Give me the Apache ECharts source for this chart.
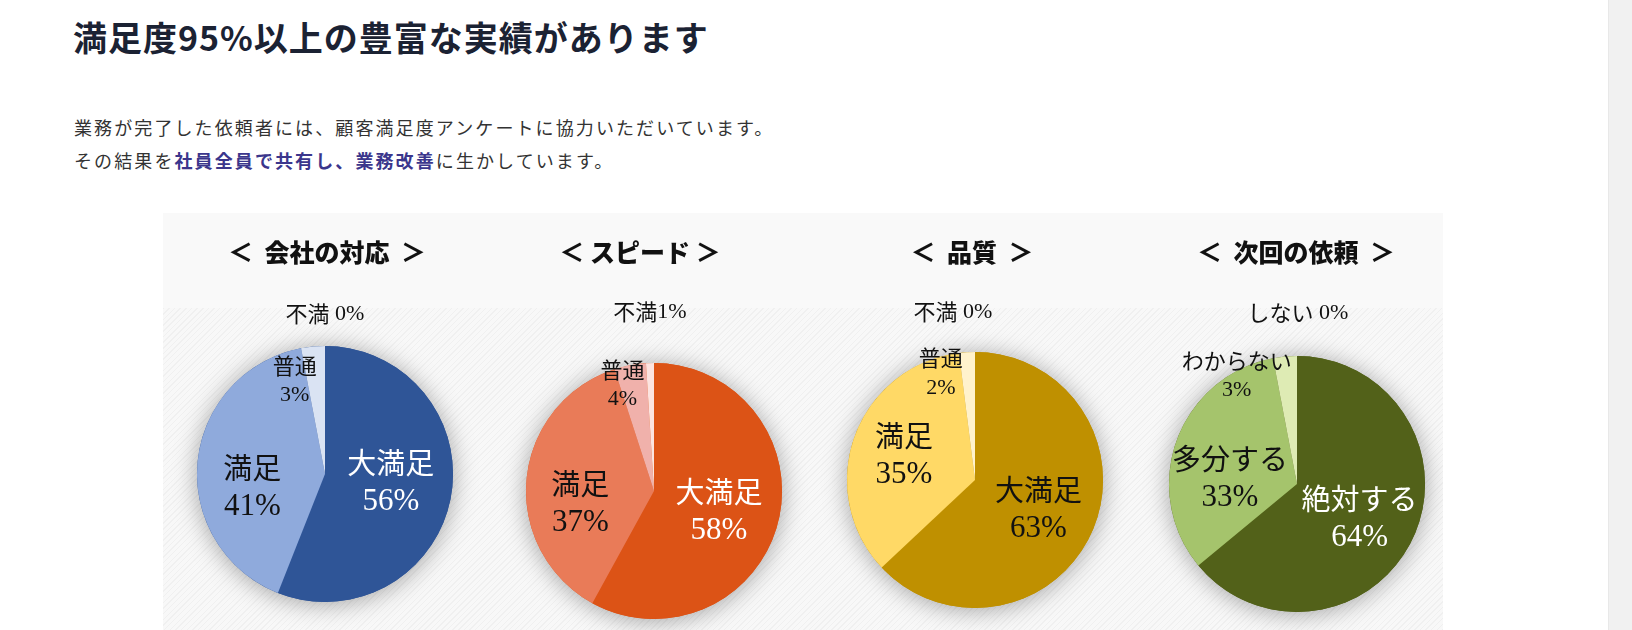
<!DOCTYPE html>
<html lang="ja">
<head>
<meta charset="utf-8">
<title>満足度95%以上の豊富な実績があります</title>
<script src="https://cdn.jsdelivr.net/npm/echarts@6/dist/echarts.min.js"></script>
<style>
body {
  margin: 0;
  width: 1632px;
  height: 630px;
  background: #fff;
  overflow: hidden;
  position: relative;
  font-family: "Noto Sans CJK JP", sans-serif;
}
.heading {
  position: absolute;
  left: 73px;
  top: 14px;
  margin: 0;
  font-size: 34px;
  font-weight: bold;
  letter-spacing: 1px;
  line-height: 46px;
  color: #1b2233;
}
.lead {
  position: absolute;
  left: 74px;
  top: 111px;
  margin: 0;
  font-size: 18px;
  letter-spacing: 2.1px;
  line-height: 33px;
  color: #333;
}
.lead b { color: #3b368c; }
.panel {
  position: absolute;
  left: 163px;
  top: 213px;
  width: 1280px;
  height: 417px;
  background: #f9f9f9;
}
.hatch {
  position: absolute;
  left: 0; right: 0; top: 95px; bottom: 0;
  background: repeating-linear-gradient(135deg, #f0f0f0 0 1px, #f8f8f8 1px 4px);
}
#chart {
  position: absolute;
  left: 0; top: 0;
  width: 1280px;
  height: 417px;
}
.scroll {
  position: absolute;
  left: 1608px; top: 0;
  width: 24px; height: 630px;
  background: #f1f1f1;
  border-left: 1px solid #e8e8e8;
}
</style>
</head>
<body>
<h1 class="heading">満足度95%以上の豊富な実績があります</h1>
<p class="lead">業務が完了した依頼者には、顧客満足度アンケートに協力いただいています。<br>その結果を<b>社員全員で共有し、業務改善</b>に生かしています。</p>
<div class="panel">
  <div class="hatch"></div>
  <div id="chart"></div>
</div>
<div class="scroll"></div>

<script>
// chart titles
const titles = ['＜  会社の対応  ＞', '＜ スピード ＞', '＜  品質  ＞', '＜  次回の依頼  ＞']

// answers (%)
const satisfactionNames = ['大満足', '満足', '普通', '不満']
const companyValues = [56, 41, 3, 0]
const speedValues = [58, 37, 4, 1]
const qualityValues = [63, 35, 2, 0]
const nextNames = ['絶対する', '多分する', 'わからない', 'しない']
const nextValues = [64, 33, 3, 0]

const groups = [
  {
    names: satisfactionNames, values: companyValues, sep: ' ',
    center: [162, 261], titleX: 164,
    colors: ['#2f5597', '#8faadc', '#dae3f3', '#c9d6ee'],
    light: [true, false],
    offsets: [[0, -4], [-6, 20], [-24, -27], [0, -93]]
  },
  {
    names: satisfactionNames, values: speedValues, sep: '',
    center: [491, 278], titleX: 477,
    colors: ['#dc5316', '#e97b58', '#f0b1ab', '#fce4e0'],
    light: [true, false],
    offsets: [[0, 4], [-7, 19], [-19, -41], [-2, -112]]
  },
  {
    names: satisfactionNames, values: qualityValues, sep: ' ',
    center: [812, 267], titleX: 809,
    colors: ['#bf9000', '#ffd966', '#fff2cc', '#fff8e5'],
    light: [false, false],
    offsets: [[2, 3], [-8, -2], [-30, -40], [-22, -101]]
  },
  {
    names: nextNames, values: nextValues, sep: ' ',
    center: [1134, 271], titleX: 1133,
    colors: ['#526119', '#a5c46c', '#deebb4', '#eef5d8'],
    light: [true, false],
    offsets: [[2, 6], [-4, 17], [-54, -42], [1, -104]]
  }
]

const rich = {
  bw: { fontFamily: 'Noto Sans CJK JP', fontSize: 29, color: '#fff', lineHeight: 39 },
  bb: { fontFamily: 'Noto Sans CJK JP', fontSize: 29, color: '#111', lineHeight: 39 },
  pw: { fontFamily: 'Liberation Serif', fontSize: 31, color: '#fff', lineHeight: 39 },
  pb: { fontFamily: 'Liberation Serif', fontSize: 31, color: '#111', lineHeight: 39 },
  sn: { fontFamily: 'Noto Sans CJK JP', fontSize: 22, color: '#111', lineHeight: 30 },
  sp: { fontFamily: 'Liberation Serif', fontSize: 22, color: '#111', lineHeight: 30 }
}

function makeSeries(g) {
  const total = g.values.reduce((a, b) => a + b, 0)
  return [
    {
      // soft drop shadow behind the pie
      type: 'pie', silent: true, animation: false, z: 1,
      radius: 128, center: g.center,
      label: { show: false }, labelLine: { show: false },
      itemStyle: { color: g.colors[0], shadowBlur: 24, shadowColor: 'rgba(0,0,0,0.35)', shadowOffsetY: 2 },
      data: [{ value: total, name: 'shadow' }]
    },
    {
      type: 'pie', animation: false, z: 2,
      radius: 128, center: g.center,
      startAngle: 90, clockwise: true,
      avoidLabelOverlap: false,
      emphasis: { disabled: true },
      itemStyle: { borderWidth: 0 },
      labelLine: { show: false },
      label: {
        show: true,
        position: 'inside',
        rich: rich,
        formatter: p => {
          const k = p.dataIndex
          if (k < 2) {
            const c = g.light[k] ? 'w' : 'b'
            return '{b' + c + '|' + p.name + '}\n{p' + c + '|' + p.value + '%}'
          }
          if (k === 2) return '{sn|' + p.name + '}\n{sp|' + p.value + '%}'
          return '{sn|' + p.name + '}{sp|' + g.sep + p.value + '%}'
        }
      },
      data: g.names.map((n, k) => ({
        name: n,
        value: g.values[k],
        itemStyle: { color: g.colors[k] },
        label: { offset: g.offsets[k] }
      }))
    }
  ]
}

const chart = echarts.init(document.getElementById('chart'))
chart.setOption({
  backgroundColor: 'transparent',
  graphic: groups.map((g, i) => ({
    type: 'text',
    x: g.titleX,
    y: 39,
    style: {
      text: titles[i],
      align: 'center',
      verticalAlign: 'middle',
      fontFamily: 'Noto Sans CJK JP',
      fontSize: 25,
      fontWeight: 900,
      fill: '#111'
    }
  })),
  series: groups.flatMap(makeSeries)
})
</script>
</body>
</html>
